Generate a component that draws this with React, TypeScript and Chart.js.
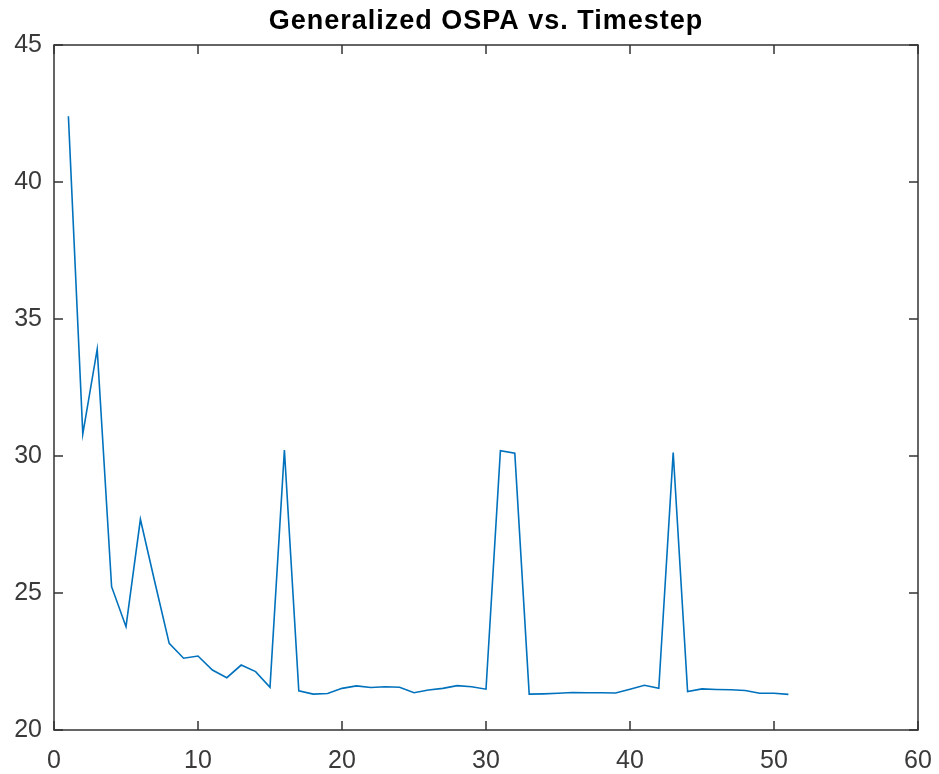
import React, { useEffect, useRef } from "react";
import { Chart, registerables } from "chart.js";

Chart.register(...registerables);

const TITLE = "Generalized OSPA vs. Timestep";

const timesteps: number[] = [
  1, 2, 3, 4, 5, 6, 7, 8, 9, 10, 11, 12, 13, 14, 15, 16, 17, 18, 19, 20, 21, 22, 23, 24, 25,
  26, 27, 28, 29, 30, 31, 32, 33, 34, 35, 36, 37, 38, 39, 40, 41, 42, 43, 44, 45, 46, 47, 48,
  49, 50, 51,
];

const ospaValues: number[] = [
  42.4, 30.8, 33.9, 25.23, 23.77, 27.69, 25.4, 23.16, 22.62, 22.7, 22.19, 21.91, 22.37, 22.13,
  21.56, 30.22, 21.43, 21.31, 21.33, 21.52, 21.61, 21.55, 21.58, 21.56, 21.36, 21.46, 21.52,
  21.62, 21.58, 21.49, 30.19, 30.1, 21.31, 21.32, 21.34, 21.37, 21.36, 21.36, 21.35, 21.49,
  21.63, 21.52, 30.13, 21.4, 21.5, 21.48, 21.47, 21.44, 21.34, 21.34, 21.3,
];

const xTicks: number[] = [0, 10, 20, 30, 40, 50, 60];
const yTicks: number[] = [20, 25, 30, 35, 40, 45];

const FONT = '"Liberation Sans", Arial, Helvetica, sans-serif';
const AXIS_COLOR = "#333333";
const TICK_LABEL_COLOR = "#3a3a3a";

const boxPlugin = {
  id: "matlabBox",
  afterDraw(chart: any) {
    const { ctx, chartArea, scales } = chart;
    const { left, right, top, bottom } = chartArea;
    ctx.save();
    ctx.strokeStyle = AXIS_COLOR;
    ctx.lineWidth = 1.5;
    ctx.strokeRect(left, top, right - left, bottom - top);
    const tl = 9;
    ctx.beginPath();
    for (const v of xTicks) {
      const px = scales.x.getPixelForValue(v);
      ctx.moveTo(px, bottom);
      ctx.lineTo(px, bottom - tl);
      ctx.moveTo(px, top);
      ctx.lineTo(px, top + tl);
    }
    for (const v of yTicks) {
      const py = scales.y.getPixelForValue(v);
      ctx.moveTo(left, py);
      ctx.lineTo(left + tl, py);
      ctx.moveTo(right, py);
      ctx.lineTo(right - tl, py);
    }
    ctx.stroke();

    // title
    ctx.fillStyle = "#000000";
    ctx.font = `bold 27px ${FONT}`;
    try {
      (ctx as any).letterSpacing = "1px";
    } catch (e) {}
    ctx.textAlign = "center";
    ctx.textBaseline = "alphabetic";
    ctx.fillText(TITLE, (left + right) / 2, 29);
    ctx.restore();
  },
};

export default function App() {
  const canvasRef = useRef<HTMLCanvasElement | null>(null);

  useEffect(() => {
    if (!canvasRef.current) return;
    const chart = new Chart(canvasRef.current, {
      type: "line",
      data: {
        datasets: [
          {
            label: "OSPA",
            data: timesteps.map((t, i) => ({ x: t, y: ospaValues[i] })),
            borderColor: "#0072BD",
            backgroundColor: "#0072BD",
            borderWidth: 1.6,
            pointRadius: 0,
            tension: 0,
            fill: false,
          },
        ],
      },
      options: {
        responsive: false,
        animation: false,
        devicePixelRatio: 1,
        layout: { padding: { top: 45, right: 21, left: 0, bottom: 0 } },
        plugins: {
          legend: { display: false },
          title: { display: false },
          tooltip: { enabled: false },
        },
        scales: {
          x: {
            type: "linear",
            min: 0,
            max: 60,
            afterBuildTicks: (scale: any) => {
              scale.ticks = xTicks.map((v) => ({ value: v }));
            },
            afterFit: (scale: any) => {
              scale.height = 44;
              scale.paddingLeft = 0;
              scale.paddingRight = 0;
            },
            grid: { display: false, drawTicks: false },
            border: { display: false },
            ticks: {
              padding: 16,
              color: TICK_LABEL_COLOR,
              font: { family: FONT, size: 25 },
              maxRotation: 0,
              autoSkip: false,
            },
          },
          y: {
            type: "linear",
            min: 20,
            max: 45,
            afterBuildTicks: (scale: any) => {
              scale.ticks = yTicks.map((v) => ({ value: v }));
            },
            afterFit: (scale: any) => {
              scale.width = 54;
              scale.paddingTop = 0;
              scale.paddingBottom = 0;
            },
            grid: { display: false, drawTicks: false },
            border: { display: false },
            ticks: {
              padding: 12,
              color: TICK_LABEL_COLOR,
              font: { family: FONT, size: 25 },
              autoSkip: false,
            },
          },
        },
      },
      plugins: [boxPlugin],
    });
    return () => chart.destroy();
  }, []);

  return (
    <div style={{ position: "fixed", left: 0, top: 0, width: 939, height: 774, background: "#fff" }}>
      <canvas ref={canvasRef} width={939} height={774} />
    </div>
  );
}
